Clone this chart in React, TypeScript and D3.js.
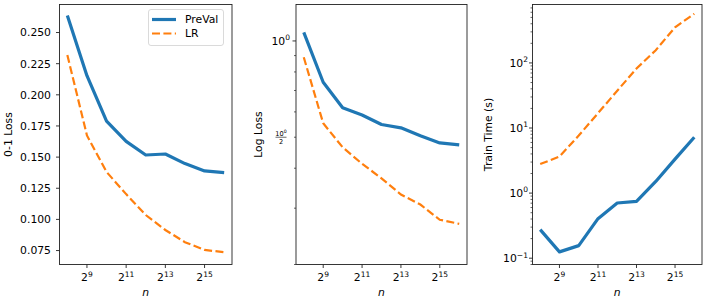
import React from "react";
import * as d3 from "d3";

const exponents = [8, 9, 10, 11, 12, 13, 14, 15, 16];
const xTickExps = [9, 11, 13, 15];

const zeroOnePreVal = [0.2636, 0.2154, 0.1789, 0.1626, 0.1517, 0.1525, 0.1448, 0.1389, 0.1376];
const zeroOneLR = [0.2319, 0.1674, 0.1381, 0.1203, 0.1035, 0.0915, 0.0817, 0.0755, 0.0737];

const logLossPreVal = [1.064, 0.743, 0.618, 0.587, 0.548, 0.535, 0.505, 0.48, 0.473];
const logLossLR = [0.889, 0.553, 0.465, 0.413, 0.372, 0.331, 0.308, 0.276, 0.268];

const trainTimePreVal = [0.275, 0.125, 0.156, 0.405, 0.705, 0.746, 1.51, 3.33, 7.23];
const trainTimeLR = [2.79, 3.65, 7.65, 16.9, 37.4, 82, 157, 352, 569];

const zeroOneTicks = [0.075, 0.1, 0.125, 0.15, 0.175, 0.2, 0.225, 0.25];

const BLUE = "#1f77b4";
const ORANGE = "#ff7f0e";
const FONT = "DejaVu Sans, sans-serif";
const FS = 10.8;

const TOP = 4.5;
const BOTTOM = 264.5;

type PanelProps = {
  left: number;
  right: number;
  yLabel: string;
  yLabelX: number;
  labelPad: number;
  kind: "linear" | "loglossy" | "timelog";
  yDomain: [number, number];
  pre: number[];
  lr: number[];
  legend?: boolean;
};

function Sup({ base, exp, fs }: { base: string; exp: string; fs: number }) {
  return (
    <>
      <tspan>{base}</tspan>
      <tspan dy={-fs * 0.42} fontSize={fs * 0.7}>{exp}</tspan>
    </>
  );
}

function Panel(p: PanelProps) {
  const x = d3.scaleLinear().domain([7.6, 16.4]).range([p.left, p.right]);
  const y =
    p.kind === "linear"
      ? d3.scaleLinear().domain(p.yDomain).range([BOTTOM, TOP])
      : d3.scaleLog().domain(p.yDomain).range([BOTTOM, TOP]);

  const line = d3
    .line<number>()
    .x((_, i) => x(exponents[i]))
    .y((d) => y(d));

  const major: { v: number; label: React.ReactNode }[] = [];
  const minor: number[] = [];
  const [d0, d1] = p.yDomain;
  if (p.kind === "linear") {
    zeroOneTicks.forEach((v) => major.push({ v, label: v.toFixed(3) }));
  } else {
    for (let k = -2; k <= 3; k++) {
      const base = Math.pow(10, k);
      if (base >= d0 && base <= d1) {
        const e = k < 0 ? "\u2212" + Math.abs(k) : String(k);
        major.push({ v: base, label: <Sup base="10" exp={e} fs={FS} /> });
      }
      for (let m = 2; m <= 9; m++) {
        const v = m * base;
        if (v >= d0 && v <= d1) minor.push(v);
      }
    }
  }

  const midY = (TOP + BOTTOM) / 2;
  const midX = (p.left + p.right) / 2;

  return (
    <g>
      <rect x={p.left} y={TOP} width={p.right - p.left} height={BOTTOM - TOP} fill="white" />
      <path d={line(p.pre) || ""} fill="none" stroke={BLUE} strokeWidth={3.2} strokeLinejoin="round" />
      <path d={line(p.lr) || ""} fill="none" stroke={ORANGE} strokeWidth={2.2} strokeDasharray="8,3.4" />
      <rect x={p.left} y={TOP} width={p.right - p.left} height={BOTTOM - TOP} fill="none" stroke="#222" strokeWidth={0.9} />
      {xTickExps.map((e) => (
        <g key={e}>
          <line x1={x(e)} x2={x(e)} y1={BOTTOM} y2={BOTTOM + 3.5} stroke="#222" strokeWidth={0.9} />
          <text x={x(e)} y={BOTTOM + 16.8} textAnchor="middle" fontFamily={FONT} fontSize={FS}>
            <Sup base="2" exp={String(e)} fs={FS} />
          </text>
        </g>
      ))}
      <text x={midX} y={295.5} textAnchor="middle" fontFamily={FONT} fontSize={FS} fontStyle="italic">n</text>
      {major.map((t, i) => (
        <g key={"M" + i}>
          <line x1={p.left - 3.5} x2={p.left} y1={y(t.v)} y2={y(t.v)} stroke="#222" strokeWidth={0.9} />
          <text x={p.left - p.labelPad} y={y(t.v)} dy="0.36em" textAnchor="end" fontFamily={FONT} fontSize={FS}>
            {t.label}
          </text>
        </g>
      ))}
      {minor.map((v, i) => (
        <line key={"m" + i} x1={p.left - 2} x2={p.left} y1={y(v)} y2={y(v)} stroke="#222" strokeWidth={0.7} />
      ))}
      {p.kind === "loglossy" && (
        <g fontFamily={FONT} fontSize={6.6}>
          <text x={p.left - 15} y={y(0.5) - 1.6} textAnchor="middle">
            <Sup base="10" exp="0" fs={6.6} />
          </text>
          <line x1={p.left - 20.5} x2={p.left - 9.5} y1={y(0.5)} y2={y(0.5)} stroke="#000" strokeWidth={0.6} />
          <text x={p.left - 15} y={y(0.5) + 6.6} textAnchor="middle">2</text>
        </g>
      )}
      <text
        transform={`translate(${p.yLabelX},${midY}) rotate(-90)`}
        textAnchor="middle"
        dy="0.36em"
        fontFamily={FONT}
        fontSize={FS}
      >
        {p.yLabel}
      </text>
      {p.legend && (
        <g>
          <rect x={148.5} y={9.5} width={75} height={36} rx={2.5} fill="white" fillOpacity={0.8} stroke="#d0d0d0" strokeWidth={0.8} />
          <line x1={152} x2={176} y1={19.5} y2={19.5} stroke={BLUE} strokeWidth={3.2} />
          <line x1={152} x2={176} y1={33.5} y2={33.5} stroke={ORANGE} strokeWidth={2.2} strokeDasharray="8,3.4" />
          <text x={185} y={19.5} dy="0.36em" fontFamily={FONT} fontSize={FS}>PreVal</text>
          <text x={185} y={33.5} dy="0.36em" fontFamily={FONT} fontSize={FS}>LR</text>
        </g>
      )}
    </g>
  );
}

export default function App() {
  return (
    <svg width={706} height={303} style={{ position: "absolute", left: 0, top: 0, background: "white" }}>
      <rect width={706} height={303} fill="white" />
      <Panel
        left={59.5}
        right={232}
        yLabel="0-1 Loss"
        yLabelX={8.5}
        labelPad={8.5}
        kind="linear"
        yDomain={[0.0638, 0.2725]}
        pre={zeroOnePreVal}
        lr={zeroOneLR}
        legend
      />
      <Panel
        left={296}
        right={467}
        yLabel="Log Loss"
        yLabelX={258}
        labelPad={6}
        kind="loglossy"
        yDomain={[0.2, 1.3]}
        pre={logLossPreVal}
        lr={logLossLR}
      />
      <Panel
        left={532.5}
        right={702}
        yLabel="Train Time (s)"
        yLabelX={488.5}
        labelPad={4.5}
        kind="timelog"
        yDomain={[0.08, 790]}
        pre={trainTimePreVal}
        lr={trainTimeLR}
      />
    </svg>
  );
}
